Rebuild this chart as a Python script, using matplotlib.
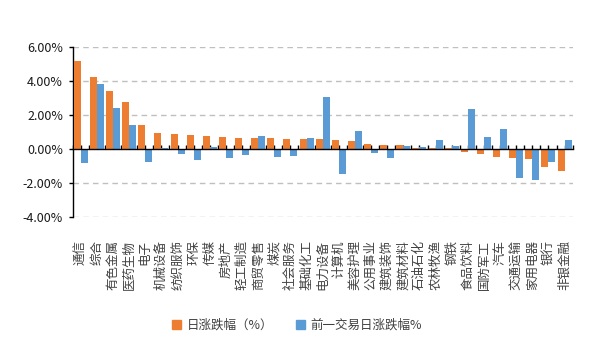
import matplotlib
matplotlib.use("Agg")
import matplotlib.pyplot as plt
from matplotlib.patches import Patch
import numpy as np

plt.rcParams['font.family'] = ['Noto Sans CJK SC', 'DejaVu Sans']

# industries, sorted by today's change
industries = ['通信', '综合', '有色金属', '医药生物', '电子', '机械设备', '纺织服饰', '环保',
              '传媒', '房地产', '轻工制造', '商贸零售', '煤炭', '社会服务', '基础化工', '电力设备',
              '计算机', '美容护理', '公用事业', '建筑装饰', '建筑材料', '石油石化', '农林牧渔', '钢铁',
              '食品饮料', '国防军工', '汽车', '交通运输', '家用电器', '银行', '非银金融']

# daily change (%)
today = [5.20, 4.25, 3.43, 2.78, 1.43, 0.96, 0.90, 0.84,
         0.78, 0.73, 0.67, 0.67, 0.67, 0.61, 0.61, 0.61,
         0.55, 0.49, 0.31, 0.25, 0.25, 0.08, 0.08, 0.08,
         -0.14, -0.25, -0.43, -0.49, -0.55, -1.02, -1.25]

# previous trading day change (%)
prev_day = [-0.78, 3.84, 2.43, 1.43, -0.73, 0.10, -0.25, -0.61,
            0.14, -0.49, -0.31, 0.78, -0.43, -0.39, 0.67, 3.08,
            -1.43, 1.08, -0.20, -0.49, 0.20, 0.14, 0.55, 0.20,
            2.37, 0.73, 1.20, -1.67, -1.78, -0.73, 0.55]

orange = '#ED7D31'
blue = '#5B9BD5'

fig = plt.figure(figsize=(5.94, 3.39), dpi=100)
ax = fig.add_axes([0.1224, 0.359, 0.8417, 0.5015])

x = np.arange(len(industries))
w = 0.434
ax.bar(x - w / 2, today, width=w, color=orange, zorder=3)
ax.bar(x + w / 2, prev_day, width=w, color=blue, zorder=3)

ax.set_xlim(-0.5, len(industries) - 0.5)
ax.set_ylim(-4, 6)
ax.set_yticks([-4, -2, 0, 2, 4, 6])
ax.set_yticklabels(['%.2f%%' % v for v in [-4, -2, 0, 2, 4, 6]], fontsize=9, color='#1a1a1a')

for v in [-4, -2, 2, 4, 6]:
    ax.axhline(v, color='#BFBFBF', lw=1.0, ls=(0, (4, 3)), zorder=1)

for s in ['top', 'right']:
    ax.spines[s].set_visible(False)
ax.spines['left'].set_color('black')
ax.spines['left'].set_linewidth(1.0)
ax.spines['bottom'].set_position(('data', 0))
ax.spines['bottom'].set_color('black')
ax.spines['bottom'].set_linewidth(1.0)
ax.spines['bottom'].set_zorder(4)

ax.tick_params(axis='y', direction='out', length=3, width=1, pad=4)
ax.set_xticks(np.arange(-0.5, len(industries), 0.5))
ax.tick_params(axis='x', direction='in', length=3, width=1, labelbottom=False)

# category labels below the plot area
for i, name in enumerate(industries):
    ax.text(i, -0.135, name, transform=ax.get_xaxis_transform(), rotation=90,
            ha='center', va='top', fontsize=9, color='#404040')

handles = [Patch(color=orange, label='日涨跌幅（%）'),
           Patch(color=blue, label='前一交易日涨跌幅%')]
fig.legend(handles=handles, loc='center', bbox_to_anchor=(0.5, 0.041), ncol=2,
           frameon=False, fontsize=9, handlelength=0.7, handleheight=0.7,
           handletextpad=0.5, columnspacing=1.8, labelcolor='#404040')

fig.savefig('out.png', dpi=100)
